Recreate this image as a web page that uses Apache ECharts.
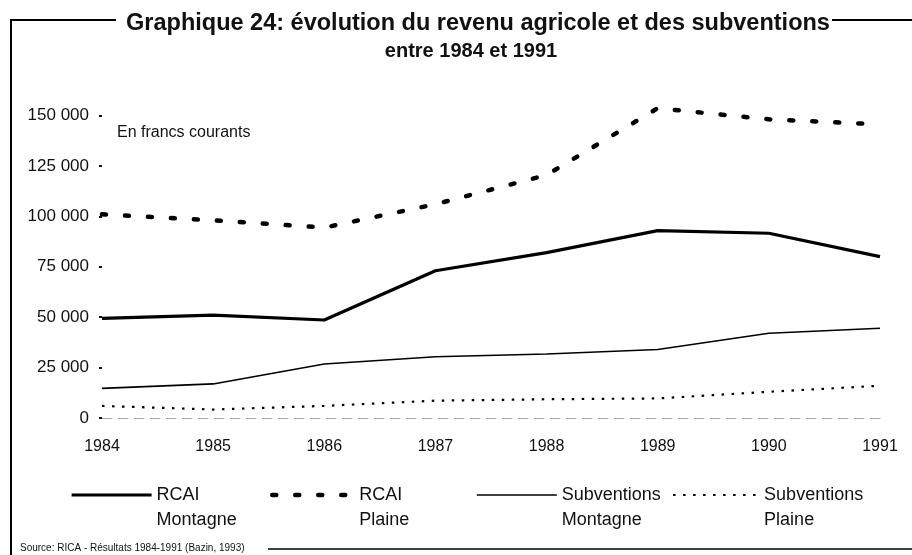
<!DOCTYPE html>
<html><head><meta charset="utf-8">
<script src="https://cdn.jsdelivr.net/npm/echarts@6/dist/echarts.min.js"></script>
<style>html,body{margin:0;padding:0;background:#fff}#c{width:912px;height:555px}</style>
</head><body><div id="c"></div>
<script>
var years = ['1984','1985','1986','1987','1988','1989','1990','1991'];
var rcaiMontagne = [49400, 51000, 48600, 73000, 82000, 92900, 91600, 80000];
var rcaiPlaine = [101000, 98000, 94400, 106000, 120500, 153600, 148100, 145600];
var subvMontagne = [14700, 16900, 26800, 30400, 31700, 34000, 42000, 44500];
var subvPlaine = [6000, 4200, 6000, 8600, 9300, 9700, 13000, 16000];
var seriesNames = ['RCAI\nMontagne', 'RCAI\nPlaine', 'Subventions\nMontagne', 'Subventions\nPlaine'];
var yTicks = [0, 25000, 50000, 75000, 100000, 125000, 150000];

var F = "'Liberation Sans', Arial, sans-serif";
var lineStyles = [
  {color: '#000', width: 3.2},
  {color: '#000', width: 4.5, type: [4, 19], cap: 'round'},
  {color: '#000', width: 1.6},
  {color: '#000', width: 2.2, type: [2.5, 7.5]}
];
var chart = echarts.init(document.getElementById('c'), null, {renderer: 'canvas'});
function legendAt(i, left, w) {
  return {
    data: [seriesNames[i]], left: left, top: 457.5, itemWidth: w, itemHeight: 20, itemGap: 0, padding: 0,
    selectedMode: false,
    itemStyle: {color: 'rgba(0,0,0,0)', borderWidth: 0, opacity: 0},
    lineStyle: {width: lineStyles[i].width},
    formatter: function (n) { return ' \n' + n; },
    textStyle: {fontFamily: F, fontSize: 18, color: '#111', lineHeight: 25}
  };
}
chart.setOption({
  animation: false,
  backgroundColor: '#fff',
  title: {
    text: '{a|Graphique 24: évolution du revenu agricole et des subventions}\n{b|entre 1984 et 1991}',
    left: 473, top: 5, textAlign: 'center',
    textStyle: {
      rich: {
        a: {fontFamily: F, fontSize: 23.5, fontWeight: 'bold', color: '#111', lineHeight: 27, align: 'center'},
        b: {fontFamily: F, fontSize: 20, fontWeight: 'bold', color: '#111', lineHeight: 28, align: 'center', padding: [0, 14, 0, 0]}
      }
    }
  },
  legend: [
    legendAt(0, 70, 80),
    legendAt(1, 270, 82),
    legendAt(2, 476, 80),
    legendAt(3, 672, 86)
  ],
  grid: {left: 102, right: 32, top: 115.5, bottom: 137},
  xAxis: {
    type: 'category', data: years, boundaryGap: false,
    axisLine: {show: true, lineStyle: {color: '#aaa', width: 1, type: [10, 6]}},
    axisTick: {show: false},
    axisLabel: {fontFamily: F, fontSize: 16, color: '#111', margin: 21}
  },
  yAxis: {
    type: 'value', min: 0, max: 150000, interval: 25000,
    splitLine: {show: false},
    axisLine: {show: false},
    axisTick: {show: true, length: 3, lineStyle: {color: '#111', width: 2}},
    axisLabel: {fontFamily: F, fontSize: 17, color: '#111', margin: 13,
      formatter: function (v) { return yTicks.indexOf(v) < 0 ? '' : (v === 0 ? '0' : String(v).replace(/\B(?=(\d{3})+(?!\d))/g, ' ')); }}
  },
  series: [
    {name: seriesNames[0], type: 'line', data: rcaiMontagne, symbol: 'none', clip: false,
      itemStyle: {color: '#000'}, lineStyle: lineStyles[0]},
    {name: seriesNames[1], type: 'line', data: rcaiPlaine, symbol: 'none', clip: false,
      itemStyle: {color: '#000'}, lineStyle: lineStyles[1]},
    {name: seriesNames[2], type: 'line', data: subvMontagne, symbol: 'none', clip: false,
      itemStyle: {color: '#000'}, lineStyle: lineStyles[2]},
    {name: seriesNames[3], type: 'line', data: subvPlaine, symbol: 'none', clip: false,
      itemStyle: {color: '#000'}, lineStyle: lineStyles[3]}
  ],
  graphic: [
    {type: 'text', left: 117, top: 125, style: {text: 'En francs courants', fontFamily: F, fontSize: 16, fill: '#111'}},
    {type: 'text', left: 20, top: 543, style: {text: 'Source: RICA - Résultats 1984-1991 (Bazin, 1993)', fontFamily: F, fontSize: 10, fill: '#111'}},
    {type: 'line', shape: {x1: 10, y1: 20, x2: 116, y2: 20}, style: {stroke: '#000', lineWidth: 2}},
    {type: 'line', shape: {x1: 832, y1: 20, x2: 912, y2: 20}, style: {stroke: '#000', lineWidth: 2}},
    {type: 'line', shape: {x1: 11, y1: 19, x2: 11, y2: 555}, style: {stroke: '#000', lineWidth: 2}},
    {type: 'line', shape: {x1: 268, y1: 549, x2: 912, y2: 549}, style: {stroke: '#000', lineWidth: 1.5}}
  ]
});
</script></body></html>
